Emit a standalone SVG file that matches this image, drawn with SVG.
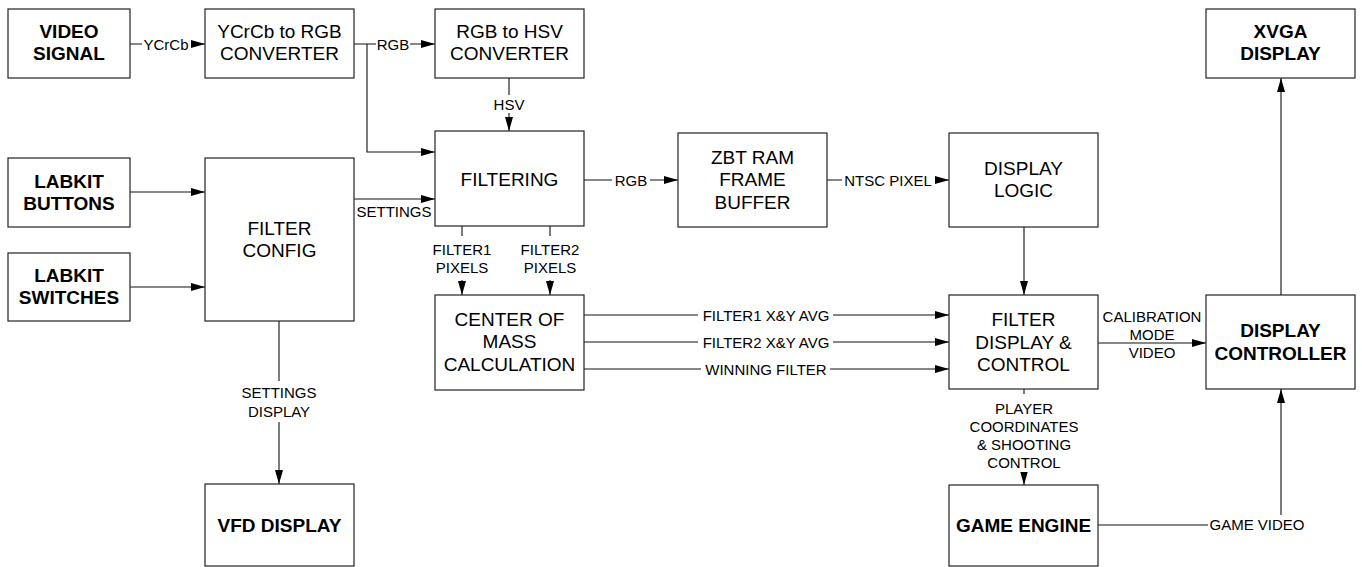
<svg xmlns="http://www.w3.org/2000/svg" width="1362" height="567" viewBox="0 0 1362 567">
<defs>
<marker id="arr" markerUnits="userSpaceOnUse" markerWidth="14" markerHeight="8" refX="14" refY="4" orient="auto" viewBox="0 0 14 8">
<path d="M0,0 L14,4 L0,8 z" fill="#000"/>
</marker>
<style>
.box{fill:#fff;stroke:#222;stroke-width:1.2}
.t{font-family:"Liberation Sans",Arial,sans-serif;font-size:19px;text-anchor:middle;fill:#000}
.b{font-weight:bold}
.c{fill:none;stroke:#111;stroke-width:1.1}
.a{marker-end:url(#arr)}
.lb{fill:#fff;stroke:none}
.l{font-family:"Liberation Sans",Arial,sans-serif;font-size:15px;text-anchor:middle;fill:#000}
</style>
</defs>
<rect width="1362" height="567" fill="#fff"/>
<g id="connectors">
<path class="c a" d="M130,44 H205"/>
<path class="c a" d="M354,44 H435"/>
<path class="c a" d="M367,44 V152 H435"/>
<path class="c a" d="M509,78 V131"/>
<path class="c a" d="M130,192 H205"/>
<path class="c a" d="M130,287 H205"/>
<path class="c a" d="M354,199 H435"/>
<path class="c a" d="M584,180 H678"/>
<path class="c a" d="M827,180 H949"/>
<path class="c a" d="M462,226 V295"/>
<path class="c a" d="M550,226 V295"/>
<path class="c a" d="M584,315 H949"/>
<path class="c a" d="M584,342 H949"/>
<path class="c a" d="M584,369 H949"/>
<path class="c a" d="M1024,227 V295"/>
<path class="c a" d="M1098,343 H1206"/>
<path class="c a" d="M279,321 V484"/>
<path class="c a" d="M1024,389 V485"/>
<path class="c a" d="M1098,525 H1281 V389"/>
<path class="c a" d="M1281,295 V78"/>
<rect class="lb" x="142" y="36" width="49" height="16"/>
<text class="l" x="166" y="49.5">YCrCb</text>
<rect class="lb" x="376" y="36" width="34" height="16"/>
<text class="l" x="393" y="49.5">RGB</text>
<rect class="lb" x="494" y="95" width="30" height="18"/>
<text class="l" x="509" y="109.5">HSV</text>
<text class="l" x="394" y="217">SETTINGS</text>
<rect class="lb" x="612" y="172" width="38" height="16"/>
<text class="l" x="631" y="185.5">RGB</text>
<rect class="lb" x="842" y="172" width="93" height="16"/>
<text class="l" x="888" y="185.5">NTSC PIXEL</text>
<rect class="lb" x="430" y="236" width="66" height="44"/>
<text class="l" x="462" y="255">FILTER1</text>
<text class="l" x="462" y="273">PIXELS</text>
<rect class="lb" x="518" y="236" width="66" height="44"/>
<text class="l" x="550" y="255">FILTER2</text>
<text class="l" x="550" y="273">PIXELS</text>
<rect class="lb" x="698" y="307" width="135" height="16"/>
<text class="l" x="766" y="320.5">FILTER1 X&amp;Y AVG</text>
<rect class="lb" x="698" y="334" width="135" height="16"/>
<text class="l" x="766" y="347.5">FILTER2 X&amp;Y AVG</text>
<rect class="lb" x="701" y="361" width="129" height="16"/>
<text class="l" x="766" y="374.5">WINNING FILTER</text>
<text class="l" x="1152" y="321.5">CALIBRATION</text>
<text class="l" x="1152" y="340">MODE</text>
<text class="l" x="1152" y="358">VIDEO</text>
<rect class="lb" x="238" y="381" width="82" height="41"/>
<text class="l" x="279" y="398">SETTINGS</text>
<text class="l" x="279" y="416.5">DISPLAY</text>
<rect class="lb" x="974" y="394" width="100" height="78"/>
<text class="l" x="1024" y="414">PLAYER</text>
<text class="l" x="1024" y="432">COORDINATES</text>
<text class="l" x="1024" y="450">&amp; SHOOTING</text>
<text class="l" x="1024" y="468">CONTROL</text>
<rect class="lb" x="1208" y="515" width="98" height="21"/>
<text class="l" x="1257" y="530">GAME VIDEO</text>
</g>
<g id="video_signal"><rect class="box" x="8" y="9" width="122" height="69"/><text class="t b" x="69" y="38">VIDEO</text><text class="t b" x="69" y="60">SIGNAL</text></g>
<g id="ycrcb_rgb"><rect class="box" x="205" y="9" width="149" height="69"/><text class="t" x="279.5" y="38">YCrCb to RGB</text><text class="t" x="279.5" y="60">CONVERTER</text></g>
<g id="rgb_hsv"><rect class="box" x="435" y="9" width="149" height="69"/><text class="t" x="509.5" y="38">RGB to HSV</text><text class="t" x="509.5" y="60">CONVERTER</text></g>
<g id="xvga"><rect class="box" x="1206" y="9" width="149" height="69"/><text class="t b" x="1280.5" y="38">XVGA</text><text class="t b" x="1280.5" y="60">DISPLAY</text></g>
<g id="labkit_buttons"><rect class="box" x="8" y="158" width="122" height="69"/><text class="t b" x="69" y="187.5">LABKIT</text><text class="t b" x="69" y="209.5">BUTTONS</text></g>
<g id="labkit_switches"><rect class="box" x="8" y="253" width="122" height="68"/><text class="t b" x="69" y="282">LABKIT</text><text class="t b" x="69" y="304">SWITCHES</text></g>
<g id="filter_config"><rect class="box" x="205" y="158" width="149" height="163"/><text class="t" x="279.5" y="234.5">FILTER</text><text class="t" x="279.5" y="257">CONFIG</text></g>
<g id="filtering"><rect class="box" x="435" y="131" width="149" height="95"/><text class="t" x="509.5" y="185.5">FILTERING</text></g>
<g id="zbt"><rect class="box" x="678" y="133" width="149" height="94"/><text class="t" x="752.5" y="163.5">ZBT RAM</text><text class="t" x="752.5" y="186">FRAME</text><text class="t" x="752.5" y="208.5">BUFFER</text></g>
<g id="display_logic"><rect class="box" x="949" y="133" width="149" height="94"/><text class="t" x="1023.5" y="175">DISPLAY</text><text class="t" x="1023.5" y="197">LOGIC</text></g>
<g id="center_of_mass"><rect class="box" x="435" y="295" width="149" height="95"/><text class="t" x="509.5" y="325.5">CENTER OF</text><text class="t" x="509.5" y="348">MASS</text><text class="t" x="509.5" y="370.5">CALCULATION</text></g>
<g id="filter_display"><rect class="box" x="949" y="295" width="149" height="94"/><text class="t" x="1023.5" y="326">FILTER</text><text class="t" x="1023.5" y="348.5">DISPLAY &amp;</text><text class="t" x="1023.5" y="371">CONTROL</text></g>
<g id="display_controller"><rect class="box" x="1206" y="295" width="149" height="94"/><text class="t b" x="1280.5" y="337">DISPLAY</text><text class="t b" x="1280.5" y="359.5">CONTROLLER</text></g>
<g id="vfd_display"><rect class="box" x="205" y="484" width="149" height="82"/><text class="t b" x="279.5" y="531.5">VFD DISPLAY</text></g>
<g id="game_engine"><rect class="box" x="949" y="485" width="149" height="81"/><text class="t b" x="1023.5" y="531.5">GAME ENGINE</text></g>
</svg>
